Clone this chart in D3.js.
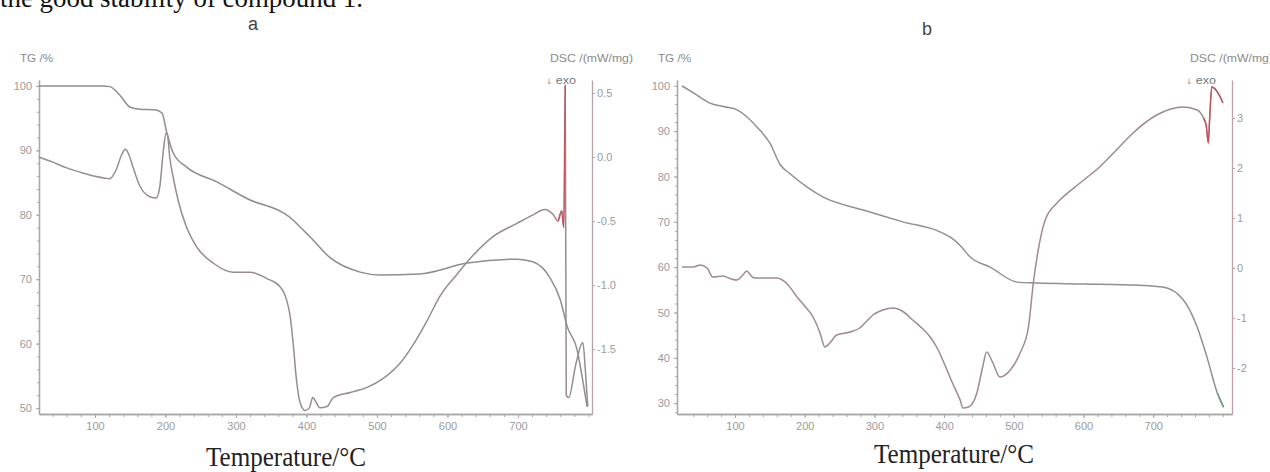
<!DOCTYPE html>
<html>
<head>
<meta charset="utf-8">
<script src="https://cdn.jsdelivr.net/npm/d3@7"></script>
<style>
  body { margin: 0; background: #fff; }
  svg text { font-family: "Liberation Sans", Arial, sans-serif; }
</style>
</head>
<body>
<svg id="chart" width="1270" height="472"></svg>
<script>
// ---- panel a data (temperature in degC) ----
var tempA_TG = [20, 60, 110, 121, 135, 150, 164, 185, 195, 202, 211, 230, 273, 320, 367, 381, 391, 405, 434, 476, 504, 560, 628, 699, 721, 745, 760, 770, 784, 790, 798];
var tgA = [100, 100, 100, 99.9, 98.6, 96.7, 96.4, 96.3, 95.8, 92.7, 89.6, 87.4, 85.1, 82.3, 80.3, 79.2, 78.1, 76.6, 73.3, 71.1, 70.65, 70.8, 72.5, 73.1, 72.7, 70.3, 66.8, 62.6, 59.0, 55.5, 50.2];
var tempA_DSC = [20, 40, 60, 80, 100, 114, 121, 130, 138, 143, 148, 154, 164, 178, 187, 192, 197, 201, 203, 206, 211, 218, 230, 244, 268, 296, 320, 344, 362, 372, 377, 381, 386, 391, 398, 404, 409, 414, 419, 429, 438, 462, 486, 509, 533, 551, 571, 589, 613, 636, 665, 698, 722, 738, 750, 757, 762, 765, 767, 768.5, 772, 782, 792, 796, 799];
var dscA = [0.0, -0.04, -0.085, -0.12, -0.15, -0.165, -0.17, -0.1, 0.02, 0.06, 0.02, -0.08, -0.23, -0.31, -0.32, -0.23, 0.05, 0.19, 0.17, 0.0, -0.16, -0.34, -0.55, -0.7, -0.83, -0.9, -0.9, -0.95, -1.01, -1.12, -1.25, -1.45, -1.75, -1.92, -1.98, -1.96, -1.88, -1.92, -1.96, -1.95, -1.88, -1.84, -1.8, -1.73, -1.61, -1.47, -1.28, -1.09, -0.92, -0.77, -0.62, -0.52, -0.45, -0.41, -0.45, -0.5, -0.42, -0.55, 0.56, -1.86, -1.88, -1.62, -1.45, -1.7, -1.95];

// ---- panel b data ----
var tempB_TG = [24, 45, 64, 85, 103, 117, 131, 150, 165, 179, 203, 226, 284, 341, 394, 410, 423, 437, 466, 505, 533, 600, 680, 714, 743, 763, 777, 792, 801];
var tgB = [100, 98, 96.2, 95.4, 94.7, 93.2, 91, 87.4, 82.6, 80.6, 77.7, 75.5, 72.6, 70, 67.8, 66.5, 64.8, 62.3, 60, 56.7, 56.5, 56.3, 56.0, 55.6, 52.8, 46.8, 40.2, 32.2, 29.1];
var tempB_DSC = [24, 40, 50, 60, 68, 83, 95, 103, 110, 117, 122, 128, 160, 175, 189, 200, 212, 222, 229, 236, 246, 265, 279, 290, 298, 312, 327, 342, 355, 368, 380, 390, 398, 412, 423, 427, 435, 447, 455, 461, 470, 480, 495, 509, 521, 528, 535, 545, 562, 566, 595, 623, 650, 671, 705, 743, 763, 772, 776, 779, 781, 784, 793, 800];
var dscB = [0.02, 0.02, 0.06, 0.0, -0.18, -0.16, -0.22, -0.24, -0.16, -0.06, -0.14, -0.2, -0.2, -0.32, -0.58, -0.76, -0.98, -1.3, -1.58, -1.5, -1.34, -1.28, -1.2, -1.05, -0.94, -0.84, -0.8, -0.88, -1.04, -1.2, -1.38, -1.6, -1.84, -2.3, -2.64, -2.8, -2.78, -2.5, -2.0, -1.68, -1.9, -2.18, -2.04, -1.7, -1.18, -0.3, 0.36, 0.96, 1.3, 1.36, 1.7, 2.02, 2.4, 2.7, 3.06, 3.22, 3.16, 3.0, 2.85, 2.5, 3.0, 3.62, 3.5, 3.3];

// ---- tick labels ----
var xTicks = [100, 200, 300, 400, 500, 600, 700];
var tgTicksA = [50, 60, 70, 80, 90, 100];
var dscTicksA = [0.5, 0.0, -0.5, -1.0, -1.5];
var tgTicksB = [30, 40, 50, 60, 70, 80, 90, 100];
var dscTicksB = [3, 2, 1, 0, -1, -2];

var svg = d3.select("#chart");

function styleAxis(sel, col, txtCol) {
  sel.selectAll(".domain").attr("stroke", col).attr("stroke-width", 1.3);
  sel.selectAll(".tick line").attr("stroke", col);
  sel.selectAll(".tick text").attr("fill", txtCol).style("font-size", "11px");
}

function drawPanel(p) {
  var g = svg.append("g");
  var x = d3.scaleLinear().domain(p.tDomain).range([p.left, p.right]);
  var yTG = d3.scaleLinear().domain(p.tgDomain).range([p.bottom, p.top]);
  var yDSC = d3.scaleLinear().domain(p.dscDomain).range([p.bottom, p.top]);

  // bottom axis, minor then major ticks
  g.append("g").attr("transform", "translate(0," + p.bottom + ")")
    .call(d3.axisBottom(x).tickValues(d3.range(40, 801, 20)).tickSize(3).tickSizeOuter(0).tickFormat(""))
    .call(styleAxis, "#a8a8a8", "#9a9a9a");
  g.append("g").attr("transform", "translate(0," + p.bottom + ")")
    .call(d3.axisBottom(x).tickValues(xTicks).tickSize(4).tickSizeOuter(0).tickPadding(4))
    .call(styleAxis, "#a8a8a8", "#9a9a9a");

  // left TG axis
  g.append("g").attr("transform", "translate(" + p.left + ",0)")
    .call(d3.axisLeft(yTG).tickValues(d3.range(Math.ceil(p.tgDomain[0] / 2) * 2, p.tgDomain[1], 2)).tickSize(2).tickSizeOuter(0).tickFormat(""))
    .call(styleAxis, "#a8a8a8", "#9a9a9a");
  g.append("g").attr("transform", "translate(" + p.left + ",0)")
    .call(d3.axisLeft(yTG).tickValues(p.tgTicks).tickSize(3).tickSizeOuter(0).tickPadding(4))
    .call(styleAxis, "#a8a8a8", "#9a9a9a");

  // right DSC axis
  g.append("g").attr("transform", "translate(" + p.right + ",0)")
    .call(d3.axisRight(yDSC).tickValues(p.dscTicks).tickSize(3).tickSizeOuter(0).tickPadding(2).tickFormat(p.dscFmt))
    .call(styleAxis, p.rightAxisCol, "#9a9a9a");

  var lineTG = d3.line().x(function(d) { return x(d[0]); }).y(function(d) { return yTG(d[1]); }).curve(d3.curveMonotoneX);
  var lineDSC = d3.line().x(function(d) { return x(d[0]); }).y(function(d) { return yDSC(d[1]); }).curve(d3.curveMonotoneX);

  var tg = d3.zip(p.tgT, p.tg);
  var dsc = d3.zip(p.dscT, p.dsc);

  g.append("path").datum(tg).attr("d", lineTG)
    .attr("fill", "none").attr("stroke", p.tgCol).attr("stroke-width", 1.5);
  g.append("path").datum(dsc).attr("d", lineDSC)
    .attr("fill", "none").attr("stroke", p.dscCol).attr("stroke-width", 1.5);

  // red highlight at the DSC end peaks
  g.append("path").datum(dsc.filter(function(d) { return d[0] >= p.redFrom[0] && d[0] <= p.redFrom[1]; }))
    .attr("d", lineDSC).attr("fill", "none").attr("stroke", "#c8505e").attr("stroke-width", 1.3);
  if (p.greenFrom) {
    g.append("path").datum(tg.filter(function(d) { return d[0] >= p.greenFrom; }))
      .attr("d", lineTG).attr("fill", "none").attr("stroke", "#6aa47a").attr("stroke-width", 1.5);
  }

  // labels
  g.append("text").attr("x", p.left - 19).attr("y", 62).attr("fill", "#8a8a8a").style("font-size", "11px")
    .attr("textLength", 33).attr("lengthAdjust", "spacingAndGlyphs").text("TG /%");
  g.append("text").attr("x", p.right - 42).attr("y", 62).attr("fill", "#8a8a8a").style("font-size", "11px")
    .attr("textLength", 83).attr("lengthAdjust", "spacingAndGlyphs").text("DSC /(mW/mg)");
  g.append("text").attr("x", p.right - 46).attr("y", 84).attr("fill", "#777").style("font-size", "10px")
    .attr("textLength", 30).attr("lengthAdjust", "spacingAndGlyphs").text("\u2193 exo");
  g.append("text").attr("x", p.panelX).attr("y", p.panelY).attr("text-anchor", "middle")
    .attr("fill", "#444").style("font-size", "18px").text(p.name);
  g.append("text").attr("x", p.xlabX).attr("y", p.xlabY).attr("text-anchor", "middle")
    .attr("fill", "#222").style("font-family", "'Liberation Serif', 'Times New Roman', serif").style("font-size", "28px")
    .attr("textLength", 160).attr("lengthAdjust", "spacingAndGlyphs").text("Temperature/\u00b0C");
}

// clipped sentence from the paper above the figure
svg.append("text").attr("x", 0).attr("y", 7).attr("fill", "#111")
  .style("font-family", "'Liberation Serif', 'Times New Roman', serif").style("font-size", "28px")
  .attr("textLength", 363).attr("lengthAdjust", "spacingAndGlyphs")
  .text("the good stability of compound 1.");

drawPanel({
  name: "a", panelX: 253, panelY: 30, xlabX: 286, xlabY: 466,
  left: 39, right: 592, top: 80, bottom: 414,
  tDomain: [20.6, 805], tgDomain: [49.07, 100.93], dscDomain: [-2.008, 0.602],
  tgTicks: tgTicksA, dscTicks: dscTicksA, dscFmt: function(d) { return d.toFixed(1); },
  tgT: tempA_TG, tg: tgA, dscT: tempA_DSC, dsc: dscA,
  tgCol: "#8e8e8e", dscCol: "#968c8e", rightAxisCol: "#b9a4a8",
  redFrom: [756, 767]
});

drawPanel({
  name: "b", panelX: 927, panelY: 35, xlabX: 954, xlabY: 463,
  left: 677, right: 1232, top: 80, bottom: 414,
  tDomain: [16.8, 813], tgDomain: [27.6, 101.3], dscDomain: [-2.92, 3.76],
  tgTicks: tgTicksB, dscTicks: dscTicksB, dscFmt: function(d) { return String(d); },
  tgT: tempB_TG, tg: tgB, dscT: tempB_DSC, dsc: dscB,
  tgCol: "#909090", dscCol: "#a08a8c", rightAxisCol: "#bfa0a6",
  redFrom: [770, 800], greenFrom: 790
});
</script>
</body>
</html>
